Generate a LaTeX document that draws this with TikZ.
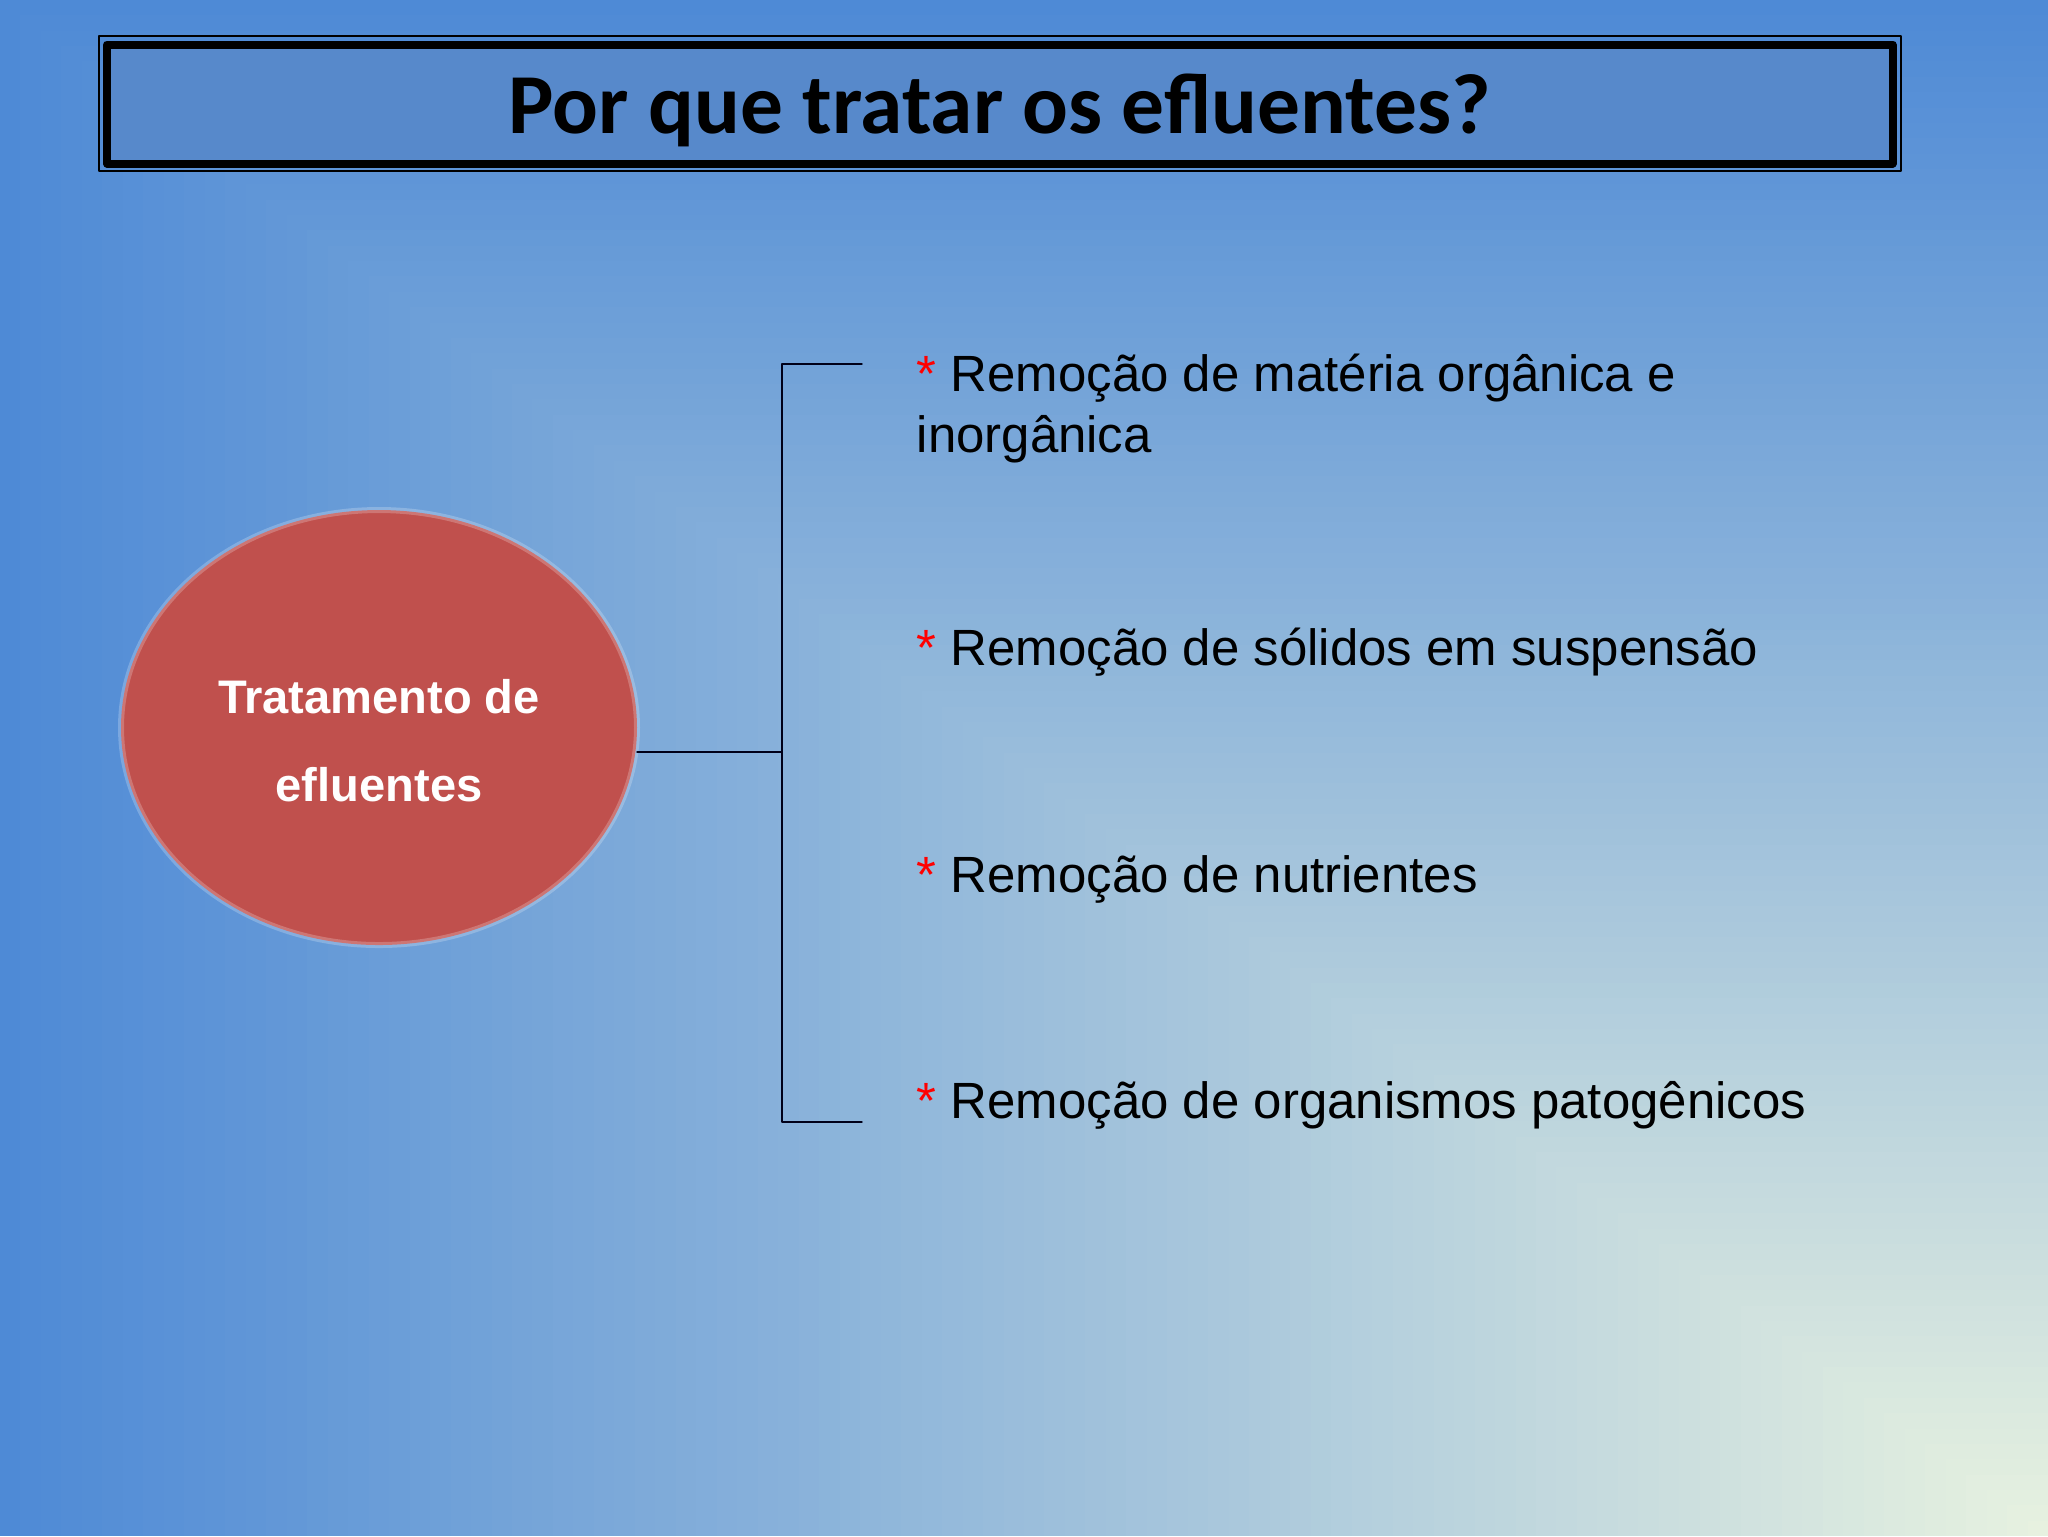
\documentclass[tikz,border=0pt]{standalone}
\usepackage{fontspec}
\setmainfont{Liberation Sans}
\newfontfamily\titlefont{Carlito}
\usetikzlibrary{shapes.geometric}
\definecolor{bgblue}{RGB}{78,138,214}
\definecolor{bgpale}{RGB}{232,242,224}
\definecolor{boxfill}{RGB}{87,137,203}
\definecolor{ellred}{RGB}{192,80,77}
\definecolor{starred}{RGB}{255,0,0}
\newcommand\redstar{\textcolor{starred}{*}}
\begin{document}
\begin{tikzpicture}[x=0.1mm, y=-0.1mm, line join=round, line cap=round,
	titlebox/.style={draw=black, line width=0.8mm, fill=boxfill, minimum width=178.55mm, minimum height=11.9mm, inner sep=0pt, outer sep=0pt, text height=7.8mm, text depth=2mm, font=\titlefont\fontsize{24.3}{28}\selectfont\bfseries},
	elli/.style={ellipse, fill=ellred, draw=white, draw opacity=0.22, line width=0.6mm, minimum width=51.6mm, minimum height=43.5mm, inner sep=0pt, outer sep=0pt, text=white, align=center, font=\fontsize{13.4}{25}\selectfont\bfseries},
	item/.style={anchor=base west, inner sep=0pt, align=left, font=\fontsize{14.5}{17.1}\selectfont},
	brk/.style={line width=0.4pt, color=black!90!blue}]
	\useasboundingbox (0,0) rectangle (2048,1536);
	% fundo: degrade a partir do canto inferior direito
	\foreach \i in {0,...,99}{
		\pgfmathsetmacro\fr{1-\i/100}
		\pgfmathsetmacro\pc{100*\fr}
		\fill[bgblue!\pc!bgpale] ({2048*(1-\fr)},{1536*(1-\fr)}) rectangle (2048,1536);
	}
	% titulo
	\node[titlebox] (title) at (999.75,104) {Por que tratar os efluentes?};
	\draw[line width=0.2mm] ([shift={(-8,-8.5)}]title.north west) rectangle ([shift={(8.5,7.5)}]title.south east);
	% elipse
	\node[elli] (ell) at (379,727.5) {\rule{0pt}{6mm}Tratamento de\\efluentes};
	% chave
	\coordinate (jn) at (782,752);
	\coordinate (tk1) at (862,364);
	\coordinate (tk4) at (862,1122);
	\draw[brk] (tk1)--(tk1-|jn)--(tk4-|jn)--(tk4);
	\draw[brk] (ell.east|-jn)--(jn);
	% itens (base = ultima linha)
	\node[item] (it1) at (916,452) {\redstar{} Remoção de matéria orgânica e\\inorgânica};
	\node[item] (it2) at (916,665) {\redstar{} Remoção de sólidos em suspensão};
	\node[item] (it3) at (916,892) {\redstar{} Remoção de nutrientes};
	\node[item] (it4) at (916,1118) {\redstar{} Remoção de organismos patogênicos};
\end{tikzpicture}
\end{document}
